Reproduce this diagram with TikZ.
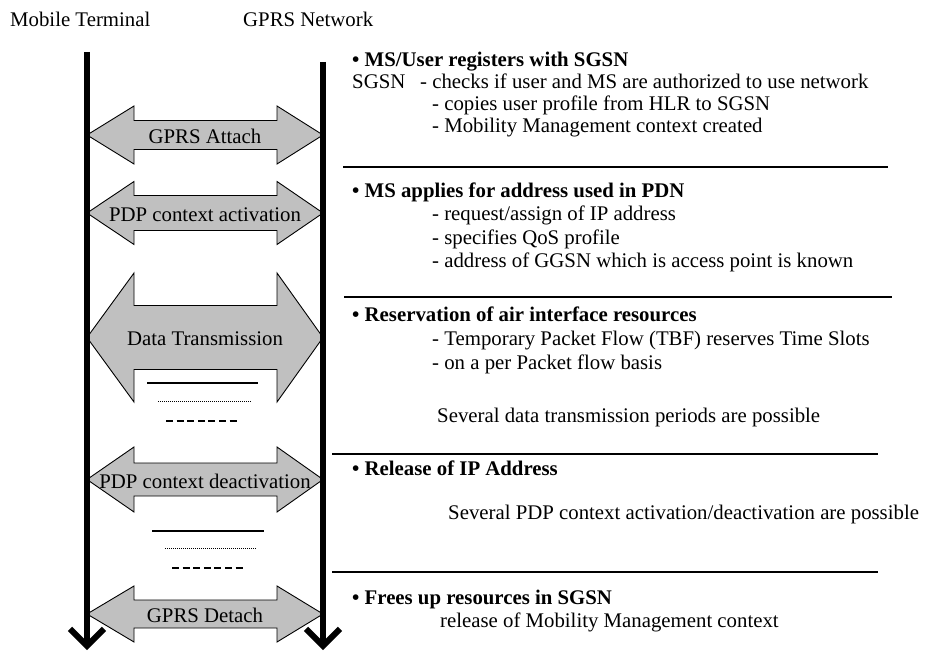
\documentclass[tikz,border=0pt]{standalone}
\usepackage{fontspec}
\setmainfont{Liberation Serif}
\usetikzlibrary{arrows.meta}
\definecolor{arrowgray}{RGB}{192,192,192}
\tikzset{
  plaintext/.style={anchor=base west, inner sep=0pt, font=\fontsize{20.8}{24}\selectfont},
  headtext/.style={plaintext, font=\fontsize{20.8}{24}\selectfont\bfseries},
  arrowlabel/.style={inner sep=0pt, font=\fontsize{20.8}{24}\selectfont},
  gprsarrow/.style={draw=black, line width=0.9pt, fill=arrowgray},
  sepline/.style={line width=2.2pt},
  lifeline/.style={line width=6pt, -{Straight Barb[length=17pt,width=34pt]}},
}
\begin{document}
\begin{tikzpicture}[x=1pt,y=-1pt]
    \useasboundingbox (0,0) rectangle (925,652);
    % Titles
    \node[plaintext] (mtitle) at (10,27) {Mobile Terminal};
    \node[plaintext] (ntitle) at (243,27) {GPRS Network};
    % Double arrows between terminal and network
    \foreach \c/\H/\S/\name/\txt in {135/29/14.5/attach/GPRS Attach,
        213/31.5/17.5/activation/PDP context activation,
        337.5/64.5/32/data/Data Transmission,
        479.5/32.5/16.5/deactivation/PDP context deactivation,
        614/28/14/detach/GPRS Detach}{
      \draw[gprsarrow] (87,\c) -- (134,\c-\H) -- (134,\c-\S) -- (277,\c-\S)
        -- (277,\c-\H) -- (323,\c) -- (277,\c+\H) -- (277,\c+\S)
        -- (134,\c+\S) -- (134,\c+\H) -- cycle;
      \node[arrowlabel] (\name) at (205,\c+1.5) {\txt};
    }
    % Repetition marks
    \draw[line width=1.6pt] (147,383) -- (258,383);
    \draw[line width=1pt, dash pattern=on 1pt off 1pt] (158,401) -- (251,401);
    \draw[line width=2pt, dash pattern=on 7pt off 3.6pt] (166,421) -- (240,421);
    \draw[line width=1.6pt] (152,531) -- (264,531);
    \draw[line width=1pt, dash pattern=on 1pt off 1pt] (165,548) -- (257,548);
    \draw[line width=2pt, dash pattern=on 7pt off 3.6pt] (172,568) -- (246,568);
    % Lifelines
    \coordinate (mt top) at (87,52);
    \coordinate (mt end) at (87,650);
    \coordinate (nw top) at (323,62);
    \coordinate (nw end) at (323,650);
    \draw[lifeline] (mt top) -- (mt end);
    \draw[lifeline] (nw top) -- (nw end);
    % Attach
    \node[headtext] (reg) at (352,67) {\textbullet\ MS/User registers with SGSN};
    \node[plaintext] (sgsn) at (352,89) {SGSN};
    \node[plaintext] (checks) at (420,89) {- checks if user and MS are authorized to use network};
    \node[plaintext] (copies) at (432,111) {- copies user profile from HLR to SGSN};
    \node[plaintext] (mmctx) at (432,133) {- Mobility Management context created};
    \draw[sepline] (343,167) -- (888,167);
    % PDP context activation
    \node[headtext] (apply) at (352,198) {\textbullet\ MS applies for address used in PDN};
    \node[plaintext] (request) at (432,221) {- request/assign of IP address};
    \node[plaintext] (qos) at (432,244) {- specifies QoS profile};
    \node[plaintext] (ggsn) at (432,267) {- address of GGSN which is access point is known};
    \draw[sepline] (344,297) -- (892,297);
    % Data transmission
    \node[headtext] (reserve) at (352,321) {\textbullet\ Reservation of air interface resources};
    \node[plaintext] (tbf) at (432,345) {- Temporary Packet Flow (TBF) reserves Time Slots};
    \node[plaintext] (perflow) at (432,369) {- on a per Packet flow basis};
    \node[plaintext] (severaldata) at (437,422) {Several data transmission periods are possible};
    \draw[sepline] (332,454) -- (878,454);
    % PDP context deactivation
    \node[headtext] (release) at (352,475) {\textbullet\ Release of IP Address};
    \node[plaintext] (severalpdp) at (448,519) {Several PDP context activation/deactivation are possible};
    \draw[sepline] (332,572) -- (878,572);
    % Detach
    \node[headtext] (frees) at (352,604) {\textbullet\ Frees up resources in SGSN};
    \node[plaintext] (releasemm) at (440,627) {release of Mobility Management context};
\end{tikzpicture}
\end{document}
